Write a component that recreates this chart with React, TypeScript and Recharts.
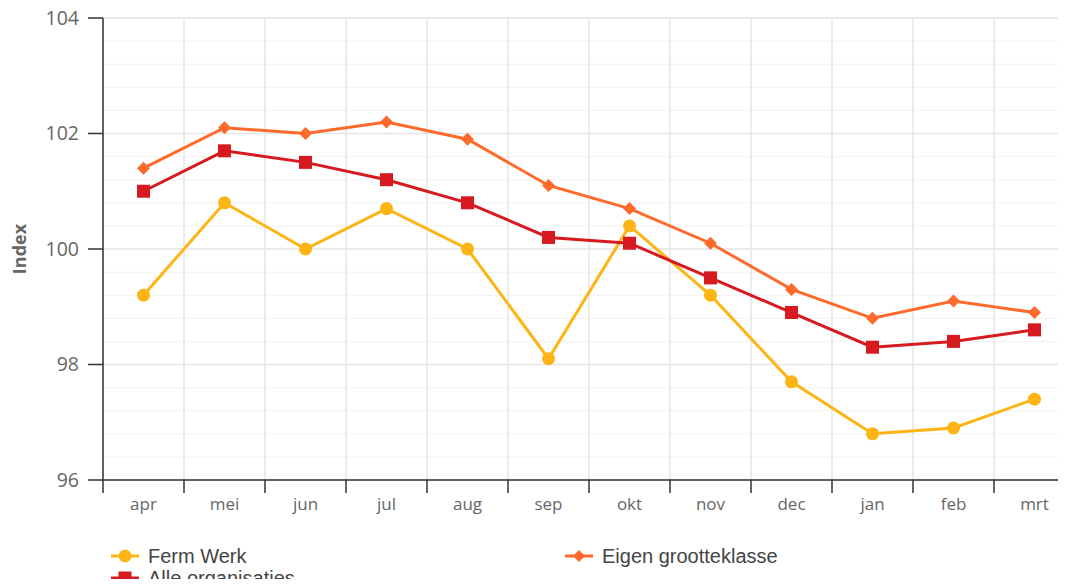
import React from "react";
import {
  LineChart,
  Line,
  XAxis,
  YAxis,
  CartesianGrid,
  Label,
} from "recharts";

const months = ["apr", "mei", "jun", "jul", "aug", "sep", "okt", "nov", "dec", "jan", "feb", "mrt"];
const fermWerk = [99.2, 100.8, 100.0, 100.7, 100.0, 98.1, 100.4, 99.2, 97.7, 96.8, 96.9, 97.4];
const alleOrganisaties = [101.0, 101.7, 101.5, 101.2, 100.8, 100.2, 100.1, 99.5, 98.9, 98.3, 98.4, 98.6];
const eigenGrootteklasse = [101.4, 102.1, 102.0, 102.2, 101.9, 101.1, 100.7, 100.1, 99.3, 98.8, 99.1, 98.9];
const yTicks = [96, 98, 100, 102, 104];

const YELLOW = "#FDB515";
const RED = "#D71920";
const ORANGE = "#FF6A2B";

const data = months.map((m, i) => ({
  month: m,
  ferm: fermWerk[i],
  alle: alleOrganisaties[i],
  eigen: eigenGrootteklasse[i],
}));

const FONT = "'Open Sans', sans-serif";

const CircleDot = (props: any) => {
  const { cx, cy } = props;
  if (cx == null || cy == null) return null;
  return <circle cx={cx} cy={cy} r={6.5} fill={YELLOW} />;
};

const SquareDot = (props: any) => {
  const { cx, cy } = props;
  if (cx == null || cy == null) return null;
  return <rect x={cx - 6.5} y={cy - 6.5} width={13} height={13} fill={RED} />;
};

const DiamondDot = (props: any) => {
  const { cx, cy } = props;
  if (cx == null || cy == null) return null;
  const s = 6.5;
  return (
    <polygon
      points={`${cx},${cy - s} ${cx + s},${cy} ${cx},${cy + s} ${cx - s},${cy}`}
      fill={ORANGE}
    />
  );
};

// plot is 972px wide, 12 categories
const HALF_BAND = 972 / 12 / 2;

const XTick = (props: any) => {
  const { x, y, payload, index } = props;
  const last = index === months.length - 1;
  return (
    <g>
      <line x1={x - HALF_BAND} x2={x - HALF_BAND} y1={y} y2={y + 13} stroke="#333" strokeWidth={1.5} />
      {last && (
        <line x1={x + HALF_BAND} x2={x + HALF_BAND} y1={y} y2={y + 13} stroke="#333" strokeWidth={1.5} />
      )}
      <text x={x} y={y + 18} dy="0.71em" textAnchor="middle" fill="#666" fontSize={17} fontFamily={FONT}>
        {payload.value}
      </text>
    </g>
  );
};

const LegendIcon = ({ color, kind }: { color: string; kind: string }) => (
  <svg width={30} height={16} style={{ marginRight: 8 }}>
    <line x1={1} x2={29} y1={8} y2={8} stroke={color} strokeWidth={3} />
    {kind === "circle" && <circle cx={15} cy={8} r={6.5} fill={color} />}
    {kind === "square" && <rect x={8.5} y={1.5} width={13} height={13} fill={color} />}
    {kind === "diamond" && <polygon points="15,2 21,8 15,14 9,8" fill={color} />}
  </svg>
);

const legendItems = [
  { name: "Ferm Werk", color: YELLOW, kind: "circle", left: 110, top: 545 },
  { name: "Eigen grootteklasse", color: ORANGE, kind: "diamond", left: 564, top: 545 },
  { name: "Alle organisaties", color: RED, kind: "square", left: 110, top: 567 },
];

export default function App() {
  return (
    <div
      style={{
        position: "relative",
        width: 1066,
        height: 587,
        margin: -8,
        overflow: "hidden",
        background: "#fff",
      }}
    >
      <LineChart
        width={1090}
        height={587}
        data={data}
        margin={{ top: 18, right: 15, left: 0, bottom: 67 }}
      >
        <CartesianGrid
          vertical={false}
          stroke="#f2f2f2"
          horizontalCoordinatesGenerator={({ offset }: any) =>
            Array.from({ length: 21 }, (_, i) => offset.top + (i * offset.height) / 20)
          }
        />
        <CartesianGrid
          stroke="#e6e6e6"
          strokeWidth={1.5}
          verticalCoordinatesGenerator={({ offset }: any) =>
            Array.from({ length: 13 }, (_, i) => offset.left + (i * offset.width) / 12)
          }
          horizontalCoordinatesGenerator={({ offset }: any) =>
            Array.from({ length: 5 }, (_, i) => offset.top + (i * offset.height) / 4)
          }
        />
        <XAxis
          dataKey="month"
          scale="band"
          height={40}
          tickSize={0}
          tickMargin={0}
          tickLine={false}
          axisLine={{ stroke: "#333", strokeWidth: 1.5 }}
          tick={<XTick />}
          interval={0}
        />
        <YAxis
          width={103}
          domain={[96, 104]}
          ticks={yTicks}
          type="number"
          allowDataOverflow
          tickSize={15}
          tickMargin={9}
          tickLine={{ stroke: "#333", strokeWidth: 1.5 }}
          axisLine={{ stroke: "#333", strokeWidth: 1.5 }}
          tick={{ fill: "#666", fontSize: 19.5, fontFamily: FONT }}
        >
          <Label
            content={({ viewBox }: any) => (
              <text
                x={viewBox.x + 26}
                y={viewBox.y + viewBox.height / 2}
                transform={`rotate(-90 ${viewBox.x + 26} ${viewBox.y + viewBox.height / 2})`}
                textAnchor="middle"
                fill="#666"
                fontSize={18}
                fontWeight="bold"
                fontFamily={FONT}
              >
                Index
              </text>
            )}
          />
        </YAxis>
        <Line
          dataKey="ferm"
          name="Ferm Werk"
          stroke={YELLOW}
          strokeWidth={3}
          dot={<CircleDot />}
          activeDot={false}
          isAnimationActive={false}
        />
        <Line
          dataKey="eigen"
          name="Eigen grootteklasse"
          stroke={ORANGE}
          strokeWidth={3}
          dot={<DiamondDot />}
          activeDot={false}
          isAnimationActive={false}
        />
        <Line
          dataKey="alle"
          name="Alle organisaties"
          stroke={RED}
          strokeWidth={3}
          dot={<SquareDot />}
          activeDot={false}
          isAnimationActive={false}
        />
      </LineChart>
      {legendItems.map((it) => (
        <div
          key={it.name}
          style={{
            position: "absolute",
            left: it.left,
            top: it.top,
            display: "flex",
            alignItems: "center",
            fontFamily: "'Liberation Sans', Arial, sans-serif",
            fontSize: 20,
            color: "#444",
            lineHeight: "22px",
            whiteSpace: "nowrap",
          }}
        >
          <LegendIcon color={it.color} kind={it.kind} />
          {it.name}
        </div>
      ))}
    </div>
  );
}
